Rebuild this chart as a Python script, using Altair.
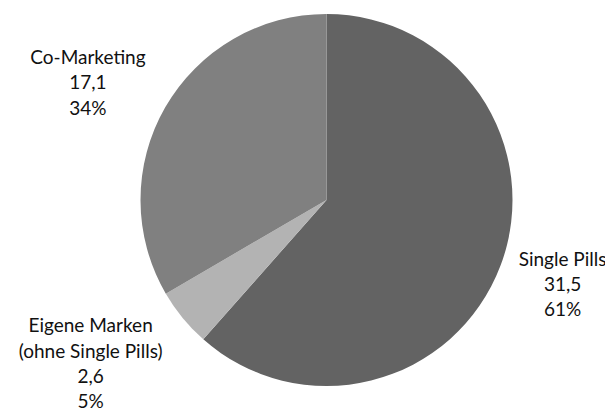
import math
import altair as alt
import pandas as pd

# data
categories = ["Single Pills", "Eigene Marken (ohne Single Pills)", "Co-Marketing"]
name_lines = [["Single Pills"], ["Eigene Marken", "(ohne Single Pills)"], ["Co-Marketing"]]
values = [31.5, 2.6, 17.1]
percent_labels = ["61%", "5%", "34%"]

# styles / layout
colors = ["#636363", "#b3b3b3", "#808080"]
label_radius = [251, 287.5, 265.6]      # px from pie centre to label block centre
label_nudge_deg = [-0.9, 4.5, -3.8]     # angular nudge of label block centre
LINE_H = 25.3

total = sum(values)
rows = []
cum = 0.0
for i, (c, v) in enumerate(zip(categories, values)):
    mid = (cum + v / 2) / total
    cum += v
    lines = name_lines[i] + [f"{v:.1f}".replace(".", ","), percent_labels[i]]
    th = mid * 2 * math.pi + math.radians(label_nudge_deg[i])
    r = label_radius[i]
    # block centre -> first line position (Vega centres only the first line)
    dx = r * math.sin(th)
    dy = -r * math.cos(th) - (len(lines) - 1) * LINE_H / 2
    rows.append({
        "cat": c,
        "value": v,
        "order": i,
        "label": lines,
        "lt": math.atan2(dx, -dy) % (2 * math.pi),
        "lr": math.hypot(dx, dy),
    })
df = pd.DataFrame(rows)

base = alt.Chart(df)

pie = base.mark_arc(outerRadius=186, stroke=None).encode(
    theta=alt.Theta("value:Q", stack=True),
    order=alt.Order("order:Q"),
    color=alt.Color("cat:N", scale=alt.Scale(domain=categories, range=colors), legend=None),
)

labels = base.mark_text(
    font="Lato", fontSize=19, lineHeight=LINE_H, color="#111111",
    align="center", baseline="middle",
).encode(
    theta=alt.Theta("lt:Q", scale=None),
    radius=alt.Radius("lr:Q", scale=None),
    text="label",
)

chart = (pie + labels).properties(
    width=557, height=384,
    padding={"left": 40, "top": 0, "right": 0, "bottom": 19},
    autosize=alt.AutoSizeParams(type="none"),
).configure_view(stroke=None).configure(background="white")

chart.save("out.html", embed_options={"renderer": "svg", "actions": False})
